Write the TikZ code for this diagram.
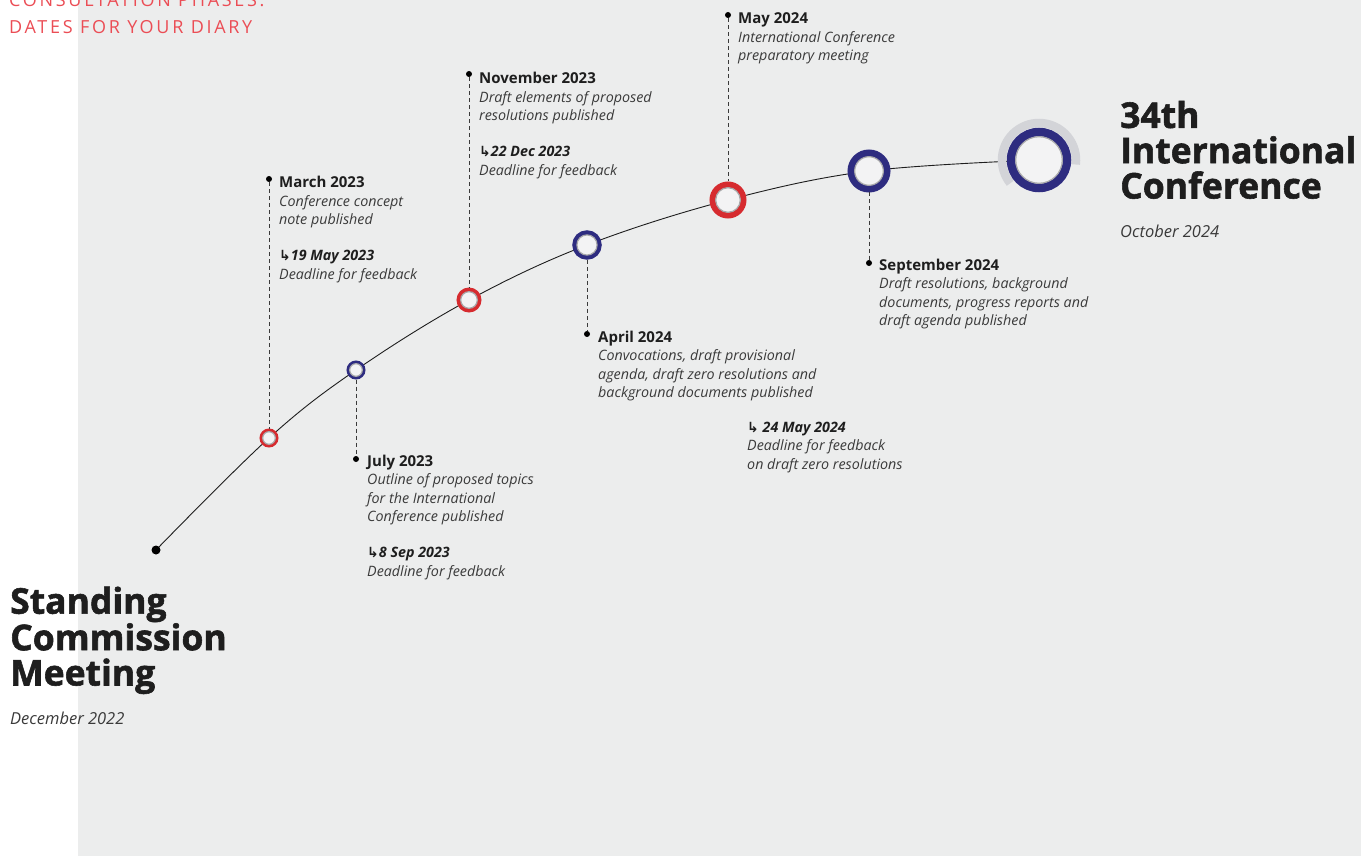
\documentclass[tikz,border=0pt]{standalone}
\usepackage{fontspec}
\setmainfont{Open Sans}
\newfontfamily\arrowfont{DejaVu Sans}
\newfontfamily\headfont[LetterSpace=15]{Open Sans}
\newfontfamily\heavyfont[BoldFeatures={FakeBold=1.6}]{Open Sans}
\definecolor{bg}{HTML}{ECEDED}
\definecolor{mred}{HTML}{D62B2F}
\definecolor{mblue}{HTML}{2E2C80}
\definecolor{dark}{HTML}{1E1E1E}
\definecolor{tgray}{HTML}{3A3A3A}
\definecolor{innerfill}{HTML}{F3F3F4}
\definecolor{ringshade}{HTML}{A8A8AA}
\definecolor{arcgray}{HTML}{D3D4D8}
\definecolor{headred}{HTML}{EB4D55}
\newcommand{\dl}{{\arrowfont\bfseries\fontsize{14}{14}\selectfont\color{dark}↳}}
\newcommand{\tb}[1]{\begin{tabular}[t]{@{}l@{}}#1\end{tabular}}
\tikzset{
  txt/.style={anchor=base west, inner sep=0pt, text=tgray,
    font=\fontsize{14.3}{18.5}\selectfont\itshape},
  ttl/.style={anchor=base west, inner sep=0pt, text=dark, align=left,
    font=\fontsize{35.5}{35.3}\selectfont\heavyfont\bfseries},
  ms/.style={circle, draw=#1, fill=innerfill, inner sep=0pt},
  dot/.style={circle, fill=black, inner sep=0pt, minimum size=6pt},
  vline/.style={draw=tgray, line width=1pt, dash pattern=on 4pt off 3pt},
}
\newcommand{\hd}[1]{{\upshape\bfseries\fontsize{15}{18.5}\selectfont\color{dark}#1}}
\newcommand{\dd}[1]{{\bfseries\color{dark}#1}}
\begin{document}
\begin{tikzpicture}[x=1pt,y=-1pt]
\useasboundingbox (0,0) rectangle (1361,856);
\fill[bg] (78,0) rectangle (1361,856);
% header
\node[anchor=base west, inner sep=0pt, text=headred, align=left,
  font=\headfont\fontsize{18}{26.5}\selectfont] (head) at (9,33.5)
  {CONSULTATION PHASES:\\DATES FOR YOUR DIARY};
% path coordinates
\coordinate (p0) at (156,550);
\coordinate (p1) at (269,438);
\coordinate (p2) at (356,370);
\coordinate (p3) at (469,300);
\coordinate (p4) at (587,245);
\coordinate (p5) at (728,200);
\coordinate (p6) at (869,171);
\coordinate (p7) at (1039,160);
\draw[dark, line width=0.9pt] plot[smooth, tension=0.6] coordinates {(p0) (p1) (p2) (p3) (p4) (p5) (p6) (p7)};
\node[dot, minimum size=9pt] (start) at (p0) {};
% big end arc
\draw[arcgray, line width=8.5pt] ([shift={(7:37)}]p7) arc[start angle=7, end angle=-219, radius=37];
% milestones
\node[ms=mred, line width=3pt, minimum size=16pt] (m1) at (p1) {};
\node[ms=mblue, line width=3pt, minimum size=16pt] (m2) at (p2) {};
\node[ms=mred, line width=4pt, minimum size=21pt] (m3) at (p3) {};
\node[ms=mblue, line width=4.5pt, minimum size=25pt] (m4) at (p4) {};
\node[ms=mred, line width=6pt, minimum size=31pt] (m5) at (p5) {};
\node[ms=mblue, line width=7pt, minimum size=36pt] (m6) at (p6) {};
\node[ms=mblue, line width=8.5pt, minimum size=56pt] (m7) at (p7) {};
\foreach \m/\r in {m1/6.3, m2/6.3, m3/8.3, m4/10.1, m5/12.3, m6/14.3, m7/23.3}
  \draw[ringshade, line width=1.2pt] (\m.center) circle (\r);
% dots on dashed lines
\node[dot] (d1) at (269,179) {};
\node[dot] (d2) at (356,459) {};
\node[dot] (d3) at (469,74) {};
\node[dot] (d4) at (587,334) {};
\node[dot] (d5) at (728,15) {};
\node[dot] (d6) at (869,263) {};
\draw[vline] (d1) -- (m1);
\draw[vline] (m2) -- (d2);
\draw[vline] (d3) -- (m3);
\draw[vline] (m4) -- (d4);
\draw[vline] (d5) -- (m5);
\draw[vline] (m6) -- (d6);
% texts
\node[txt] (t1) at (279,188) {\tb{\hd{March 2023}\\Conference concept\\note published\\[17.5pt]\dl\dd{19 May 2023}\\Deadline for feedback}};
\node[txt] (t2) at (367,466) {\tb{\hd{July 2023}\\Outline of proposed topics\\for the International\\Conference published\\[17.5pt]\dl\dd{8 Sep 2023}\\Deadline for feedback}};
\node[txt] (t3) at (479,84) {\tb{\hd{November 2023}\\Draft elements of proposed\\resolutions published\\[17.5pt]\dl\dd{22 Dec 2023}\\Deadline for feedback}};
\node[txt] (t4) at (598,342) {\tb{\hd{April 2024}\\Convocations, draft provisional\\agenda, draft zero resolutions and\\background documents published}};
\node[txt] (t4b) at (747,432) {\tb{\dl\ \dd{24 May 2024}\\Deadline for feedback\\on draft zero resolutions}};
\node[txt] (t5) at (738,24) {\tb{\hd{May 2024}\\International Conference\\preparatory meeting}};
\node[txt] (t6) at (879,270) {\tb{\hd{September 2024}\\Draft resolutions, background\\documents, progress reports and\\draft agenda published}};
% titles
\node[ttl] (st) at (10,685.5) {Standing\\Commission\\Meeting};
\node[txt, font=\fontsize{16.5}{18}\selectfont\itshape] (sd) at (10,724) {December 2022};
\node[ttl] (it) at (1120,198.5) {34th\\International\\Conference};
\node[txt, font=\fontsize{16.5}{18}\selectfont\itshape] (id) at (1120,237) {October 2024};
\end{tikzpicture}
\end{document}
